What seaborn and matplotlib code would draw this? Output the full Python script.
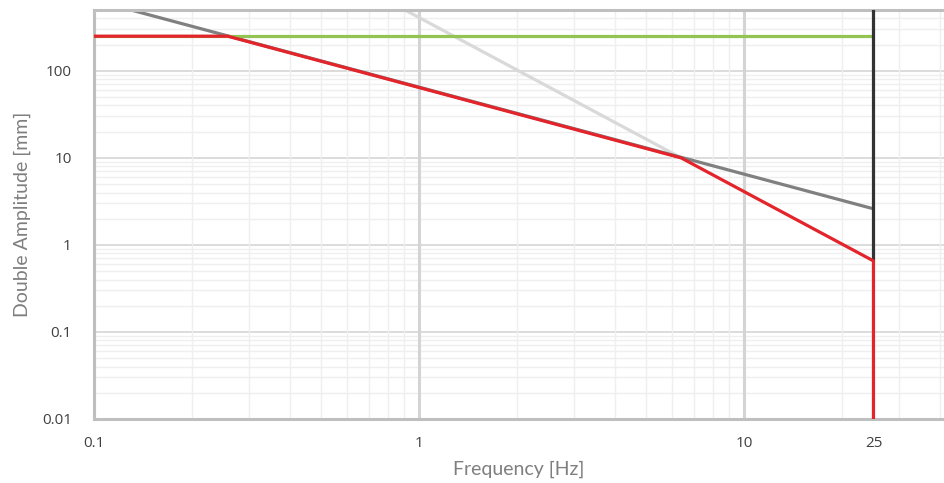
import matplotlib
matplotlib.use("Agg")
import matplotlib.pyplot as plt
import matplotlib.ticker as mticker
import seaborn as sns
import pandas as pd

# ---- data ----
freq_limit_amp = [0.1, 25]          # green: amplitude limit
amp_limit_amp = [250, 250]
freq_vel = [0.1, 25]                # grey: velocity limit
amp_vel = [650, 2.6]
freq_acc = [0.1, 6.4]               # light grey: acceleration limit
amp_acc = [41000, 10]
freq_fmax = [25, 25]                # black: max frequency
amp_fmax = [500, 0.655]
freq_env = [0.1, 0.258, 6.4, 25, 25]   # red: operating envelope
amp_env = [250, 250, 10, 0.655, 0.01]

x_ticks = [0.1, 1, 10, 25]
x_tick_labels = ["0.1", "1", "10", "25"]
y_ticks = [0.01, 0.1, 1, 10, 100]
y_tick_labels = ["0.01", "0.1", "1", "10", "100"]

sns.set_style("white")
plt.rcParams['font.family'] = ['Open Sans', 'DejaVu Sans']

fig = plt.figure(figsize=(9.44, 4.83), dpi=100)
ax = fig.add_axes([94/944, (483-419)/483, (944-94)/944, (419-10)/483])

ax.set_xscale("log")
ax.set_yscale("log")
ax.set_xlim(0.1, 41.2)
ax.set_ylim(0.01, 500)

series = [
    (freq_acc, amp_acc, "#d9d9d9", 2),
    (freq_vel, amp_vel, "#808080", 2),
    (freq_limit_amp, amp_limit_amp, "#92c353", 3),
    (freq_fmax, amp_fmax, "#333333", 4),
    (freq_env, amp_env, "#e3242b", 5),
]
for fx, fy, col, z in series:
    df = pd.DataFrame({"f": fx, "a": fy})
    sns.lineplot(data=df, x="f", y="a", ax=ax, color=col, linewidth=2.3,
                 sort=False, estimator=None, zorder=z)

ax.xaxis.set_major_locator(mticker.FixedLocator(x_ticks))
ax.xaxis.set_major_formatter(mticker.FixedFormatter(x_tick_labels))
ax.xaxis.set_minor_locator(mticker.LogLocator(base=10, subs=range(2, 10), numticks=20))
ax.xaxis.set_minor_formatter(mticker.NullFormatter())
ax.yaxis.set_major_locator(mticker.FixedLocator(y_ticks))
ax.yaxis.set_major_formatter(mticker.FixedFormatter(y_tick_labels))
ax.yaxis.set_minor_locator(mticker.LogLocator(base=10, subs=range(2, 10), numticks=20))
ax.yaxis.set_minor_formatter(mticker.NullFormatter())

ax.grid(which="minor", axis="both", color="#efefef", linewidth=1.0)
ax.grid(which="major", axis="x", color="#d4d4d4", linewidth=2.2)
ax.grid(which="major", axis="y", color="#d9d9d9", linewidth=1.3)
ax.set_axisbelow(True)
ax.yaxis.set_zorder(0.4)
ax.xaxis.set_zorder(0.5)

ax.tick_params(which="both", length=0)
ax.tick_params(axis="y", pad=16, labelsize=11, labelcolor="#404040")
ax.tick_params(axis="x", pad=12, labelsize=11, labelcolor="#404040")

for side in ["left", "bottom", "top"]:
    ax.spines[side].set_color("#bfbfbf")
    ax.spines[side].set_linewidth(2.2)
ax.spines["right"].set_visible(False)

ax.set_xlabel("Frequency [Hz]", fontsize=14, color="#7f7f7f",
              family=["Lato", "DejaVu Sans"], fontweight="normal", labelpad=7)
ax.set_ylabel("Double Amplitude [mm]", fontsize=14, color="#7f7f7f",
              family=["Lato", "DejaVu Sans"], fontweight="normal", labelpad=8)

fig.savefig("out.png", dpi=100)
